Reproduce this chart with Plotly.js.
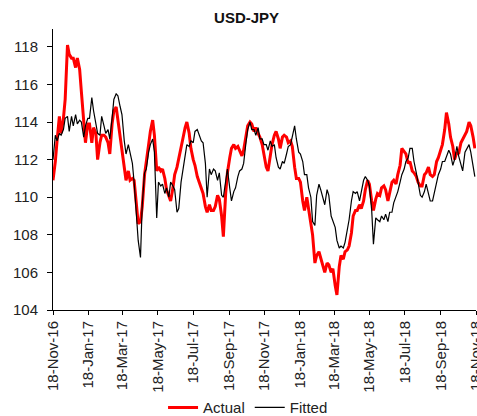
<!DOCTYPE html>
<html><head><meta charset="utf-8">
<script src="https://cdn.plot.ly/plotly-3.0.1.min.js"></script>
<style>html,body{margin:0;padding:0;background:#fff;}#chart{width:477px;height:416px;}</style>
</head><body><div id="chart"></div>
<script>
const dates = [
'2016-11-18','2016-11-22','2016-11-25','2016-11-29','2016-12-02','2016-12-06','2016-12-09','2016-12-13','2016-12-16','2016-12-20',
'2016-12-23','2016-12-27','2016-12-30','2017-01-03','2017-01-06','2017-01-10','2017-01-13','2017-01-17','2017-01-20','2017-01-24',
'2017-01-27','2017-01-31','2017-02-03','2017-02-07','2017-02-10','2017-02-14','2017-02-17','2017-02-21','2017-02-24','2017-02-28',
'2017-03-03','2017-03-07','2017-03-10','2017-03-14','2017-03-17','2017-03-21','2017-03-24','2017-03-28','2017-03-31','2017-04-04',
'2017-04-07','2017-04-11','2017-04-14','2017-04-18','2017-04-21','2017-04-25','2017-04-28','2017-05-02','2017-05-05','2017-05-09',
'2017-05-12','2017-05-16','2017-05-19','2017-05-23','2017-05-26','2017-05-30','2017-06-02','2017-06-06','2017-06-09','2017-06-13',
'2017-06-16','2017-06-20','2017-06-23','2017-06-27','2017-06-30','2017-07-04','2017-07-07','2017-07-11','2017-07-14','2017-07-18',
'2017-07-21','2017-07-25','2017-07-28','2017-08-01','2017-08-04','2017-08-08','2017-08-11','2017-08-15','2017-08-18','2017-08-22',
'2017-08-25','2017-08-29','2017-09-01','2017-09-05','2017-09-08','2017-09-12','2017-09-15','2017-09-19','2017-09-22','2017-09-26',
'2017-09-29','2017-10-03','2017-10-06','2017-10-10','2017-10-13','2017-10-17','2017-10-20','2017-10-24','2017-10-27','2017-10-31',
'2017-11-03','2017-11-07','2017-11-10','2017-11-14','2017-11-17','2017-11-21','2017-11-24','2017-11-28','2017-12-01','2017-12-05',
'2017-12-08','2017-12-12','2017-12-15','2017-12-19','2017-12-22','2017-12-26','2017-12-29','2018-01-02','2018-01-05','2018-01-09',
'2018-01-12','2018-01-16','2018-01-19','2018-01-23','2018-01-26','2018-01-30','2018-02-02','2018-02-06','2018-02-09','2018-02-13',
'2018-02-16','2018-02-20','2018-02-23','2018-02-27','2018-03-02','2018-03-06','2018-03-09','2018-03-13','2018-03-16','2018-03-20',
'2018-03-23','2018-03-27','2018-03-30','2018-04-03','2018-04-06','2018-04-10','2018-04-13','2018-04-17','2018-04-20','2018-04-24',
'2018-04-27','2018-05-01','2018-05-04','2018-05-08','2018-05-11','2018-05-15','2018-05-18','2018-05-22','2018-05-25','2018-05-29',
'2018-06-01','2018-06-05','2018-06-08','2018-06-12','2018-06-15','2018-06-19','2018-06-22','2018-06-26','2018-06-29','2018-07-03',
'2018-07-06','2018-07-10','2018-07-13','2018-07-17','2018-07-20','2018-07-24','2018-07-27','2018-07-31','2018-08-03','2018-08-07',
'2018-08-10','2018-08-14','2018-08-17','2018-08-21','2018-08-24','2018-08-28','2018-08-31','2018-09-04','2018-09-07','2018-09-11',
'2018-09-14','2018-09-18','2018-09-21','2018-09-25','2018-09-28','2018-10-02','2018-10-05','2018-10-09','2018-10-12','2018-10-16',
'2018-10-19','2018-10-23','2018-10-26','2018-10-30','2018-11-02','2018-11-06','2018-11-09','2018-11-13','2018-11-16'
];

const actual = [
110.9,111.9, 113.0,114.3, 113.4,114.2, 115.2,118.1, 117.6,117.4,
117.4,116.9, 117.4,116.8, 115.6,113.8, 112.9,113.9, 113.9,112.9,
113.7,113.4, 112.0,112.9, 113.3,113.3, 113.2,112.9, 112.3,113.9,
114.6,114.8, 114.1,113.2, 112.6,111.5, 110.9,111.4, 110.9,111.0,
110.9,109.6, 108.6,108.7, 109.5,111.2, 111.8,112.8, 113.5,114.1,
113.3,111.4, 111.6,111.4, 111.5,111.0, 110.4,110.0, 109.8,110.5,
111.2,111.6, 112.1,112.7, 113.1,113.7, 114.0,113.4, 112.6,112.0,
111.7,111.1, 110.8,110.5, 110.2,109.5, 109.2,109.6, 109.3,109.3,
109.5,110.1, 109.9,109.0, 107.9,110.2, 111.3,112.1, 112.6,112.8,
112.6,112.7, 112.5,112.2, 112.5,113.2, 113.8,114.0, 113.9,113.5,
113.7,113.4, 113.2,112.8, 112.2,111.6, 111.4,112.3, 112.8,113.3,
113.5,113.1, 112.6,113.2, 113.3,113.2, 112.9,113.0, 112.7,111.6,
111.0,111.0, 110.8,109.8, 109.3,110.0, 109.4,108.7, 108.0,106.5,
106.9,107.1, 106.8,106.3, 106.0,106.5, 106.4,106.0, 106.2,105.3,
104.8,106.3, 106.9,106.7, 107.1,107.2, 107.4,108.1, 109.0,109.3,
109.3,109.6, 109.4,109.8, 110.4,110.9, 110.7,109.8, 109.3,109.9,
110.2,110.1, 110.5,110.6, 110.4,109.8, 110.3,110.8, 110.9,110.7,
111.2,111.7, 112.6,112.4, 112.3,111.8, 111.9,111.4, 111.3,111.1,
110.8,110.6, 110.6,111.2, 111.3,111.6, 111.2,111.1, 111.2,111.9,
112.1,112.5, 112.8,113.6, 114.5,113.9, 113.2,112.7, 112.0,112.4,
112.3,112.9, 113.1,113.3, 113.5,114.0, 113.8,113.2, 112.6
];

const fitted = [
112.0,113.3, 113.0,113.4, 113.3,113.6, 114.2,114.3, 113.5,114.3,
113.8,114.4, 113.9,114.1, 114.0,113.2, 113.8,114.2, 114.2,115.3,
114.6,113.9, 113.4,113.3, 114.3,113.8, 113.4,113.6, 113.1,114.2,
115.2,115.5, 115.4,114.8, 114.4,113.0, 112.3,112.8, 112.4,111.8,
110.8,108.8, 107.7,106.8, 109.6,111.3, 111.5,112.4, 112.8,113.1,
112.4,108.9, 110.8,110.6, 110.7,110.2, 110.5,110.0, 110.8,110.6,
110.4,109.2, 109.4,110.8, 111.4,112.2, 112.8,112.7, 113.0,112.9,
113.5,113.6, 113.3,113.0, 112.9,111.8, 110.0,111.5, 111.2,111.5,
111.4,110.9, 111.3,110.1, 110.0,111.0, 111.5,110.5, 109.8,110.3,
110.5,111.1, 111.4,111.5, 111.8,112.9, 113.6,114.0, 113.6,113.6,
113.3,113.7, 113.1,113.1, 112.8,112.8, 112.5,113.0, 112.7,112.8,
112.1,111.6, 111.5,111.9, 111.8,112.3, 112.7,112.8, 113.2,113.8,
113.1,112.4, 112.3,111.9, 111.2,111.2, 110.5,110.0, 108.7,108.5,
110.1,110.7, 110.4,109.9, 109.6,110.4, 110.1,109.0, 108.7,108.4,
107.7,107.3, 107.4,107.3, 107.6,108.3, 108.8,109.8, 110.3,110.2,
110.3,109.8, 110.3,110.9, 111.1,110.9, 110.6,109.3, 107.5,108.9,
108.8,108.7, 109.0,108.8, 109.1,108.7, 109.2,109.2, 109.7,110.0,
110.3,110.8, 111.2,111.5, 111.9,112.1, 112.6,112.6, 111.9,111.3,
110.7,110.1, 110.0,110.3, 110.7,110.1, 109.8,109.8, 110.2,110.8,
111.2,111.5, 111.9,111.9, 112.2,112.5, 112.3,111.7, 112.0,112.7,
112.2,111.8, 111.4,112.4, 112.6,112.8, 112.4,111.7, 111.1
];

const tickDates = ['2016-11-18','2017-01-18','2017-03-18','2017-05-18','2017-07-18','2017-09-18',
  '2017-11-18','2018-01-18','2018-03-18','2018-05-18','2018-07-18','2018-09-18','2018-11-18'];
const tickLabels = ['18-Nov-16','18-Jan-17','18-Mar-17','18-May-17','18-Jul-17','18-Sep-17',
  '18-Nov-17','18-Jan-18','18-Mar-18','18-May-18','18-Jul-18','18-Sep-18','18-Nov-18'];
const yTicks = [104,106,108,110,112,114,116,118];

const FONT = 'Arial, "Liberation Sans", sans-serif';

const traces = [
  {x: dates, y: actual, type: 'scatter', mode: 'lines', name: 'Actual',
   line: {color: '#ff0000', width: 3}},
  {x: dates, y: fitted, type: 'scatter', mode: 'lines', name: 'Fitted',
   line: {color: '#000000', width: 1.2}}
];

const layout = {
  width: 477, height: 416,
  margin: {l: 53, r: 1, t: 29, b: 106, autoexpand: false},
  paper_bgcolor: '#fff', plot_bgcolor: '#fff',
  font: {family: FONT, size: 15, color: '#222'},
  title: {text: '<b>USD-JPY</b>', font: {family: FONT, size: 15, color: '#111'},
          x: 0.517, xref: 'container', xanchor: 'center', y: 0.957, yref: 'container', yanchor: 'middle'},
  xaxis: {type: 'date', range: ['2016-11-18', '2018-11-18'],
          tickvals: tickDates, ticktext: tickLabels, tickangle: -90,
          ticklabeloverflow: 'allow',
          showgrid: false, zeroline: false, showline: true, linecolor: '#000', linewidth: 1,
          ticks: 'outside', ticklen: 4, tickcolor: '#000', tickwidth: 1,
          tickfont: {family: FONT, size: 15, color: '#222'}},
  yaxis: {range: [104, 118.95], tickvals: yTicks,
          showgrid: false, zeroline: false, showline: true, linecolor: '#000', linewidth: 1,
          ticks: 'outside', ticklen: 5, tickcolor: '#000', tickwidth: 1,
          ticklabelstandoff: 6,
          tickfont: {family: FONT, size: 15, color: '#222'}},
  showlegend: true,
  legend: {orientation: 'h', x: 0.52, xref: 'container', xanchor: 'center',
           y: 0.02, yref: 'container', yanchor: 'middle',
           font: {family: FONT, size: 15, color: '#222'}, bgcolor: 'rgba(0,0,0,0)'}
};

Plotly.newPlot('chart', traces, layout, {displayModeBar: false, staticPlot: true});
</script>
</body></html>
